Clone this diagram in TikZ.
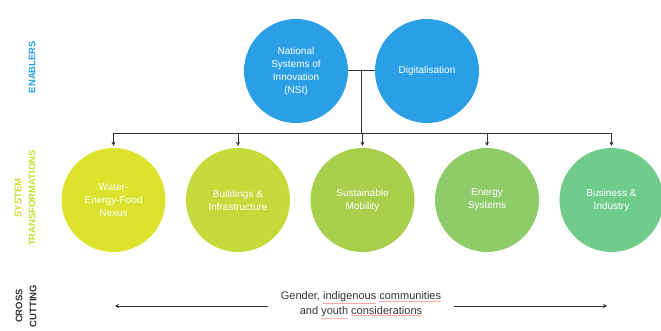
\documentclass[tikz,border=0pt]{standalone}
\usepackage{fontspec}
\setmainfont{Liberation Sans}
\usetikzlibrary{calc,arrows.meta}

\definecolor{enablerblue}{HTML}{2A9FE6}
\definecolor{wfncolor}{HTML}{DDE22C}
\definecolor{bldcolor}{HTML}{C4DA3B}
\definecolor{mobcolor}{HTML}{A7CF4B}
\definecolor{enscolor}{HTML}{8ECB69}
\definecolor{buscolor}{HTML}{6FCC8C}
\definecolor{linegray}{HTML}{333333}
\definecolor{labelgreen}{HTML}{CBDB33}

\newcommand{\spellmark}[1]{{\color{red!35}\underline{\textcolor{linegray}{#1}}}}

\tikzset{
	bubble/.style={circle, minimum size=104pt, inner sep=0pt, text=white,
		align=center, font=\fontsize{10}{13}\selectfont},
	rowlabel/.style={rotate=90, align=center, font=\bfseries\fontsize{9.5}{14}\selectfont},
	link/.style={draw=linegray, line width=1pt},
	linkarrow/.style={link, -{Stealth[length=4pt,width=4pt]}},
}

\begin{document}
\begin{tikzpicture}[x=1pt,y=-1pt]

	\useasboundingbox (0,0) rectangle (661,331);

	% row labels
	\node[rowlabel, text=enablerblue] (lblen) at (32,67) {ENABLERS};
	\node[rowlabel, text=labelgreen]  (lblst) at (25,198) {SYSTEM\\TRANSFORMATIONS};
	\node[rowlabel, text=linegray]    (lblcc) at (26,306) {CROSS\\CUTTING};

	% enablers
	\node[bubble, fill=enablerblue] (nsi)  at (296,71) {National\\Systems of\\Innovation\\(NSI)};
	\node[bubble, fill=enablerblue] (digi) at (427,71) {Digitalisation};

	% system transformations
	\node[bubble, fill=wfncolor] (wfn) at (113.5,200) {Water-\\Energy-Food\\Nexus};
	\node[bubble, fill=bldcolor] (bld) at (238,200)   {Buildings \&\\Infrastructure};
	\node[bubble, fill=mobcolor] (mob) at (362.5,200) {Sustainable\\Mobility};
	\node[bubble, fill=enscolor] (ens) at (487,200)   {Energy\\Systems};
	\node[bubble, fill=buscolor] (bus) at (611.5,200) {Business \&\\Industry};

	% connectors
	\draw[link] (nsi.east) -- (digi.west);
	\coordinate (hub) at ($(nsi.east)!0.5!(digi.west)$);
	\coordinate (bar) at (hub |- 0,134);
	\draw[link] (hub) -- (bar);
	\foreach \t in {wfn,bld,mob,ens,bus}
		\draw[linkarrow] (bar) -| ([yshift=2pt]\t.north);

	% cross cutting
	\node[align=center, text=linegray, inner xsep=13pt, font=\fontsize{11}{14.5}\selectfont]
		(cross) at (361,305) {Gender, \spellmark{indigenous} \spellmark{communities}\\and \spellmark{youth} \spellmark{considerations}};
	\coordinate (ccleft)  at (115,306);
	\coordinate (ccright) at (607,306);
	\draw[linkarrow] (cross.west |- ccleft) -- (ccleft);
	\draw[linkarrow] (cross.east |- ccright) -- (ccright);

\end{tikzpicture}
\end{document}
